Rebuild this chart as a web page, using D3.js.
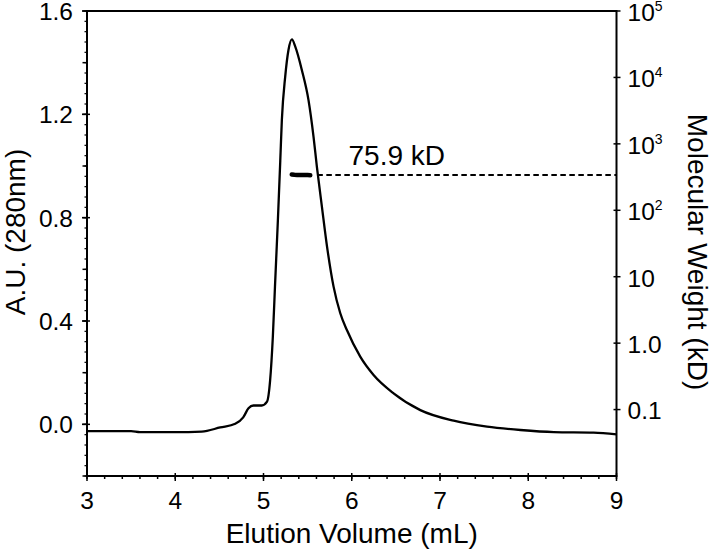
<!DOCTYPE html>
<html><head><meta charset="utf-8">
<script src="https://cdn.jsdelivr.net/npm/d3@7"></script>
<style>
body{margin:0;background:#fff}
svg{display:block}
text{font-family:"Liberation Sans", Arial, Helvetica, sans-serif; fill:#000}
</style>
</head><body>
<svg id="chart" width="717" height="550"></svg>
<script>
// ---- data ----
const elutionVolume = [3.0, 3.5, 3.6, 4.0, 4.3, 4.51, 4.68, 4.77, 4.83, 4.886, 4.98, 5.04, 5.075, 5.106, 5.13, 5.163, 5.19, 5.208, 5.246, 5.283, 5.322, 5.36, 5.435, 5.51, 5.567, 5.605, 5.662, 5.72, 5.794, 5.87, 5.945, 6.096, 6.247, 6.474, 6.777, 7.155, 7.533, 7.911, 8.29, 8.74, 9.0];
const absorbance = [-0.026, -0.026, -0.03, -0.03, -0.028, -0.012, 0.002, 0.027, 0.062, 0.073, 0.073, 0.088, 0.17, 0.34, 0.533, 0.79, 1.02, 1.178, 1.346, 1.449, 1.49, 1.462, 1.371, 1.255, 1.113, 0.997, 0.842, 0.688, 0.533, 0.43, 0.365, 0.262, 0.191, 0.12, 0.055, 0.014, -0.009, -0.022, -0.03, -0.032, -0.039];
const mwVolume = [5.32, 5.35, 5.38, 5.42, 5.46, 5.50, 5.53];
const mwValue = [345, 342, 340, 340, 339, 339, 338];
const mwLineVolume = [5.61, 9.0];
const mwLineValue = 340;
const mwLabel = "75.9 kD";
const xTicks = [3, 4, 5, 6, 7, 8, 9];
const yLeftTicks = [0.0, 0.4, 0.8, 1.2, 1.6];
const yRightTicks = [0.1, 1, 10, 100, 1000, 10000, 100000];
const yRightBase = ["0.1", "1.0", "10", "10", "10", "10", "10"];
const yRightSup = ["", "", "", "2", "3", "4", "5"];
const xTitle = "Elution Volume (mL)";
const yLeftTitle = "A.U. (280nm)";
const yRightTitle = "Molecular Weight (kD)";

// ---- layout ----
const L = 87, R = 616.5, T = 11, B = 476;
const svg = d3.select("#chart");

const x = d3.scaleLinear().domain([3, 9]).range([L, R]);
const yL = d3.scaleLinear().domain([-0.2, 1.6]).range([B, T]);
const yR = d3.scaleLog().domain([0.01, 1e5]).range([B, T]);

const tickFont = 24.5, titleFont = 28;

const g = svg.append("g").attr("stroke", "#000").attr("stroke-width", 1.5);
// bottom minor (0.2)
d3.range(3, 9.0001, 0.2).forEach(v => {
  g.append("line").attr("x1", x(v)).attr("x2", x(v)).attr("y1", B - 1).attr("y2", B + 3);
});
// bottom major
xTicks.forEach(v => {
  g.append("line").attr("x1", x(v)).attr("x2", x(v)).attr("y1", B - 3).attr("y2", B + 5);
});
// left minor 0.04
d3.range(-0.2, 1.6001, 0.04).forEach(v => {
  g.append("line").attr("x1", L - 2.5).attr("x2", L).attr("y1", yL(v)).attr("y2", yL(v)).attr("stroke-width", 1.2);
});
// left medium 0.2
d3.range(-0.2, 1.6001, 0.2).forEach(v => {
  g.append("line").attr("x1", L - 4.5).attr("x2", L).attr("y1", yL(v)).attr("y2", yL(v));
});
// left major
yLeftTicks.forEach(v => {
  g.append("line").attr("x1", L - 5).attr("x2", L + 3).attr("y1", yL(v)).attr("y2", yL(v));
});
// right major
yRightTicks.forEach(v => {
  g.append("line").attr("x1", R - 3).attr("x2", R + 4).attr("y1", yR(v)).attr("y2", yR(v));
});

// frame
svg.append("rect").attr("x", L).attr("y", T).attr("width", R - L).attr("height", B - T)
  .attr("fill", "none").attr("stroke", "#000").attr("stroke-width", 2);

// tick labels
svg.append("g").selectAll("text").data(xTicks).join("text")
  .attr("x", d => x(d)).attr("y", B + 33).attr("text-anchor", "middle")
  .attr("font-size", tickFont).text(d => d);
svg.append("g").selectAll("text").data(yLeftTicks).join("text")
  .attr("x", L - 14).attr("y", d => yL(d)).attr("dy", "0.37em").attr("text-anchor", "end")
  .attr("font-size", tickFont).text(d => d3.format(".1f")(d));
const rl = svg.append("g").selectAll("text").data(yRightTicks).join("text")
  .attr("x", R + 11).attr("y", d => yR(d)).attr("dy", "0.4em")
  .attr("font-size", tickFont);
rl.append("tspan").text((d, i) => yRightBase[i]);
rl.append("tspan").attr("font-size", 14).attr("dy", (d, i) => yRightSup[i] ? -10 : 0)
  .text((d, i) => yRightSup[i]);

// titles
svg.append("text").attr("x", (L + R) / 2).attr("y", 543).attr("text-anchor", "middle")
  .attr("font-size", titleFont).text(xTitle);
svg.append("text").attr("transform", `translate(25,${232}) rotate(-90)`).attr("text-anchor", "middle")
  .attr("font-size", titleFont).text(yLeftTitle);
svg.append("text").attr("transform", `translate(688,${252}) rotate(90)`).attr("text-anchor", "middle")
  .attr("font-size", titleFont).text(yRightTitle);

// curve
const pts = elutionVolume.map((v, i) => [v, absorbance[i]]);
svg.append("path").datum(pts)
  .attr("fill", "none").attr("stroke", "#000").attr("stroke-width", 2.3).attr("stroke-linejoin", "round")
  .attr("d", d3.line().x(d => x(d[0])).y(d => yL(d[1])).curve(d3.curveMonotoneX));

// MW dashed line
svg.append("line")
  .attr("x1", x(mwLineVolume[0])).attr("x2", x(mwLineVolume[1]))
  .attr("y1", yR(mwLineValue)).attr("y2", yR(mwLineValue))
  .attr("stroke", "#000").attr("stroke-width", 2.1).attr("stroke-dasharray", "5.5,3.5");

// MW points
const mwPts = mwVolume.map((v, i) => [v, mwValue[i]]);
svg.append("path").datum(mwPts)
  .attr("fill", "none").attr("stroke", "#000").attr("stroke-width", 4.5).attr("stroke-linecap", "round")
  .attr("d", d3.line().x(d => x(d[0])).y(d => yR(d[1])));

// label
svg.append("text").attr("x", x(5.963)).attr("y", yR(mwLineValue) - 9.5)
  .attr("font-size", titleFont).text(mwLabel);
</script>
</body></html>
